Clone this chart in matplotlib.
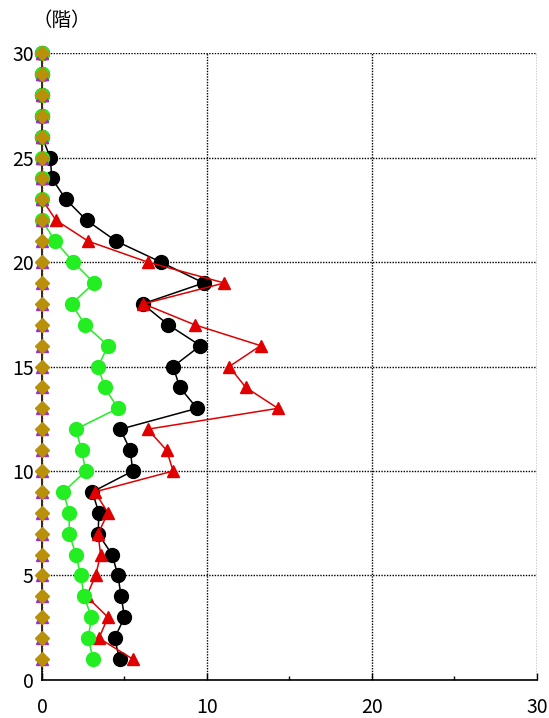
import matplotlib.pyplot as plt
from matplotlib.ticker import MultipleLocator

plt.rcParams['font.family'] = ['Noto Sans CJK JP', 'DejaVu Sans']

# floors 1..30
floors = list(range(1, 31))

black_vals = [4.7, 4.4, 5.0, 4.8, 4.6, 4.25, 3.4, 3.45, 3.05, 5.5,
              5.35, 4.75, 9.4, 8.35, 7.95, 9.6, 7.65, 6.1, 9.8, 7.2,
              4.5, 2.7, 1.45, 0.6, 0.5, 0, 0, 0, 0, 0]
red_vals = [5.5, 3.45, 4.0, 2.7, 3.25, 3.55, 3.4, 4.0, 3.2, 7.95,
            7.55, 6.4, 14.3, 12.35, 11.35, 13.25, 9.25, 6.15, 11.05, 6.4,
            2.8, 0.85, 0, 0, 0, 0, 0, 0, 0, 0]
green_vals = [3.1, 2.8, 3.0, 2.55, 2.35, 2.05, 1.65, 1.65, 1.3, 2.65,
              2.4, 2.05, 4.6, 3.8, 3.4, 4.0, 2.6, 1.8, 3.15, 1.9,
              0.8, 0, 0, 0, 0, 0, 0, 0, 0, 0]
purple_vals = [0] * 30
olive_vals = [0] * 30

x_ticks = [0, 10, 20, 30]
y_ticks = [0, 5, 10, 15, 20, 25, 30]

fig = plt.figure(figsize=(5.49, 7.18), dpi=100)
ax = fig.add_axes([0.0765, 0.053, 0.9015, 0.873])

ax.plot(black_vals, floors, color='black', lw=1.1, marker='o', ms=10,
        mfc='black', mec='black', zorder=3)
ax.plot(red_vals, floors, color='#e00000', lw=1.1, marker='^', ms=9,
        mfc='#e00000', mec='#e00000', zorder=4)
ax.plot(green_vals, floors, color='#22ee22', lw=1.1, marker='o', ms=10,
        mfc='#22ee22', mec='#22ee22', zorder=5)
ax.plot(purple_vals, floors, color='#9b30d0', lw=1.1, marker='^', ms=8,
        mfc='#9b30d0', mec='#9b30d0', zorder=6)
ax.plot(olive_vals, floors, color='#3a2a10', lw=1.3, marker='D', ms=7.5,
        mfc='#b8900a', mec='#b8900a', zorder=7)

ax.set_xlim(0, 30)
ax.set_ylim(0, 30)
ax.set_xticks(x_ticks)
ax.set_yticks(y_ticks)
ax.xaxis.set_minor_locator(MultipleLocator(5))
ax.tick_params(axis='x', which='major', direction='in', length=5, width=1,
               labelsize=14, pad=12)
ax.tick_params(axis='x', which='minor', direction='in', length=3, width=1)
ax.tick_params(axis='y', which='major', length=0, labelsize=14, pad=6)

ax.grid(True, which='major', color='black', linestyle=(0, (1, 1)), lw=1)
for side in ['top', 'right']:
    ax.spines[side].set_visible(False)
for side in ['left', 'bottom']:
    ax.spines[side].set_linewidth(1.2)
for line in ax.lines:
    line.set_clip_on(False)

fig.text(0.113, 0.972, '（階）', ha='center', va='center', fontsize=14)

fig.savefig('out.png', dpi=100)
